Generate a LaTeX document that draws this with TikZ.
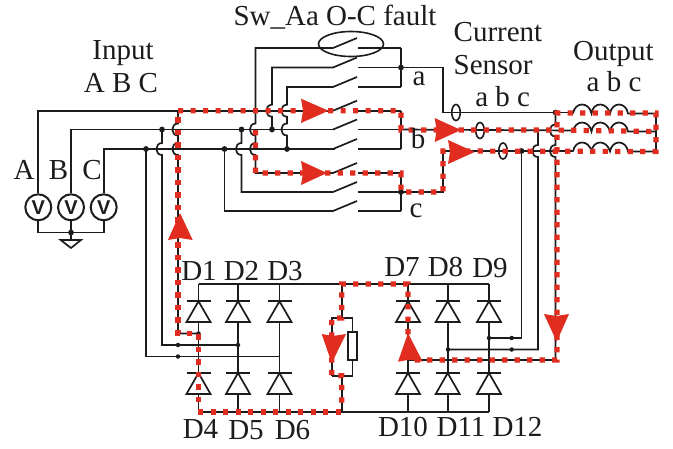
\documentclass[tikz,border=0pt]{standalone}
\usepackage{fontspec}
\usetikzlibrary{shapes.geometric}
\setmainfont{Liberation Serif}
\newfontfamily\vfont{Liberation Sans}
\definecolor{flt}{HTML}{E02D1F}
\definecolor{ink}{HTML}{1C1C1C}
\newcommand{\jmp}[2]{.. controls ({#1-7.5},{#2-6}) and ({#1-7.5},{#2+6}) .. (#1,{#2+6})}
\tikzset{
  wire/.style={draw=ink,line width=1.7pt},
  fault/.style={draw=flt,line width=5.2pt,dash pattern=on 5.2pt off 7.3pt},
  head/.style={fill=flt,draw=none},
  lab/.style={font=\fontsize{29}{29}\selectfont,text=ink,anchor=base,inner sep=0pt,outer sep=0pt},
  dotn/.style={circle,fill=ink,inner sep=0pt,minimum size=5.8pt},
  small dot/.style={circle,fill=ink,inner sep=0pt,minimum size=4.5pt},
  sensor/.style={draw=ink,line width=1.6pt,ellipse,minimum width=8.5pt,minimum height=16pt,inner sep=0pt},
  vsrc/.style={circle,draw=ink,line width=2pt,fill=white,minimum size=26pt,inner sep=0pt,font=\vfont\bfseries\fontsize{20}{20}\selectfont,text=ink},
}
\begin{document}
\begin{tikzpicture}[x=1pt,y=-1pt]
\useasboundingbox (0,0) rectangle (673,448);
% ---------- sources
\node[vsrc] (VA) at (38.3,207.3) {V};
\node[vsrc] (VB) at (71,207.3) {V};
\node[vsrc] (VC) at (103.7,207.3) {V};
\coordinate (gnd) at (71,232.5);
\coordinate (gt) at (71,240);
\draw[wire] (VA.south) |- (gnd) -| (VC.south);
\draw[wire] (VB.south) -- (gnd) -- (gt);
\node[dotn] at (gnd) {};
\draw[wire,fill=white] (60.7,240) -- (81,240) -- (71,248) -- cycle;
% ---------- input rails
\draw[wire,line width=2pt] (VA.north) -- (38.3,110.7) -- (320,110.7);
\draw[wire] (VB.north) -- (71,129.5) -- (335,129.5);
\draw[wire] (VC.north) -- (103.7,149) -- (335,149);
% ---------- switch rows
\foreach \r/\n in {48/1,67.5/2,87/3,110.7/4,129.5/5,149/6,173/7,192/8,211/9}{
  \draw[wire] (358,\r) -- (401,\r);
  \draw[wire] (333,\r) -- (357,{\r-10});
  \coordinate (sw\n) at (333,\r);
}
% ---------- switch feeds
\draw[wire] (sw1) -- (255.5,48) -- (255.5,123.5) \jmp{255.5}{129.5} -- (255.5,143) \jmp{255.5}{149} -- (255.5,173) -- (sw7);
\draw[wire] (sw2) -- (272,67.5) -- (272,104.7) \jmp{272}{110.7} -- (272,129.5);
\draw[wire] (sw3) -- (287,87) -- (287,104.7) \jmp{287}{110.7} -- (287,123.5) \jmp{287}{129.5} -- (287,149);
\draw[wire] (241.5,129.5) -- (241.5,143) \jmp{241.5}{149} -- (241.5,192) -- (sw8);
\draw[wire] (224.5,149) -- (224.5,211) -- (sw9);
\draw[wire] (320,110.7) -- (sw4);
\node[dotn] at (241.5,129.5) {};
\node[dotn] at (224.5,149) {};
\node[dotn] at (272,129.5) {};
\node[dotn] at (287,149) {};
% ---------- switch outputs
\coordinate (oa) at (401,67.5);
\coordinate (ob) at (401,129.5);
\coordinate (oc) at (401,192);
\draw[wire] (401,48) -- (401,87);
\draw[wire] (401,110.7) -- (401,149);
\draw[wire] (401,173) -- (401,211);
\node[dotn] at (oa) {};
\node[dotn] at (oc) {};
% ---------- output rails
\coordinate (ja) at (555.5,112.5);
\draw[wire] (oa) -- (443,67.5) -- (443,112.5) -- (ja) -- (573,112.5);
\draw[wire] (ob) -- (573,130.5);
\draw[wire] (oc) -- (443,192) -- (443,151) -- (573,151);
\node[dotn] at (ja) {};
\node[dotn] at (521.5,151) {};
% ---------- sensors
\node[sensor] (Sa) at (456,112.5) {};
\node[sensor] (Sb) at (480,130.5) {};
\node[sensor] (Sc) at (503,151) {};
% ---------- inductors
\foreach \y in {113.5,131.5,151.5}{
  \draw[wire] (573,\y)
    .. controls (575,{\y-12}) and (589,{\y-12}) .. (591.5,\y)
    .. controls (593,{\y-12}) and (607,{\y-12}) .. (610,\y)
    .. controls (612,{\y-12}) and (626,{\y-12}) .. (628,\y) -- (656,\y);
}
\draw[wire] (656,113.5) -- (656,151.5);
% ---------- rectifier return wires
\draw[wire] (178,110.7) -- (178,123.5) \jmp{178}{129.5} -- (178,143) \jmp{178}{149} -- (178,333.5) -- (198.5,333.5);
\draw[wire] (162,129.5) -- (162,143) \jmp{162}{149} -- (162,345) -- (238,345);
\draw[wire] (146,149) -- (146,356.5) -- (279.5,356.5);
\node[dotn] at (162,129.5) {};
\node[dotn] at (146,149) {};
\node[small dot] at (238,345) {};
\node[small dot] at (178,345) {};
\node[small dot] at (178,356.5) {};
\node[small dot] at (198.5,333.5) {};
\draw[wire] (521.5,151) -- (521.5,338) -- (489,338);
\draw[wire] (538,130.5) -- (538,145) \jmp{538}{151} -- (538,349.5) -- (448,349.5);
\draw[wire] (ja) -- (555.5,124.5) \jmp{555.5}{130.5} -- (555.5,145) \jmp{555.5}{151} -- (555.5,360) -- (408,360);
\node[small dot] at (511.7,338) {};
\node[small dot] at (489,338) {};
\node[small dot] at (511.7,349.5) {};
\node[small dot] at (448,349.5) {};
% ---------- bridge
\draw[wire] (198.5,284) -- (489,284);
\draw[wire] (198.5,412) -- (489,412);
\foreach \x in {198.5,238,279.5,408,447.7,489}{
  \draw[wire] (\x,284) -- (\x,412);
  \draw[wire] ({\x-12},301.3) -- ({\x+12},301.3);
  \draw[wire,fill=white] (\x,301.3) -- ({\x+12},322) -- ({\x-12},322) -- cycle;
  \draw[wire] ({\x-12},373) -- ({\x+12},373);
  \draw[wire,fill=white] (\x,373) -- ({\x+12},394) -- ({\x-12},394) -- cycle;
}
% ---------- load
\node[draw=ink,line width=1.7pt,fill=white,minimum width=9.5pt,minimum height=28.5pt,inner sep=0pt] (R) at (352.5,346) {};
\draw[wire] (341.7,284) -- (341.7,318);
\draw[wire] (331.7,375.7) -- (331.7,318) -- (352.5,318) -- (R.north);
\draw[wire] (R.south) -- (352.5,375.7) -- (331.7,375.7);
\draw[wire] (341.7,375.7) -- (341.7,412);
% ---------- fault ellipse
\node[draw=ink,line width=1.6pt,ellipse,minimum width=65pt,minimum height=25pt,inner sep=0pt] (fe) at (351,44) {};
% ---------- fault current
\draw[fault] (178,110.7) -- (401,110.7) -- (401,130) -- (552,130) -- (656,131.5);
\draw[fault] (178,117.3) -- (178,333.5) -- (198.5,333.5) -- (198.5,409);
\draw[fault] (198,412) -- (341.7,412);
\draw[fault] (255.5,130.2) -- (255.5,173) -- (401,173) -- (401,192) -- (443,192) -- (443,151) -- (656,151.5) -- (656,113) -- (557,113) -- (557,360) -- (408,360) -- (408,284) -- (341.7,284) -- (341.7,318) -- (331.7,318) -- (331.7,375.7) -- (341.7,375.7) -- (341.7,409);
% ---------- arrowheads
\fill[head] (301,98.7) -- (328.5,110.7) -- (301,123) -- (303,110.7) -- cycle;
\fill[head] (301,161) -- (327,173) -- (301,185) -- (303,173) -- cycle;
\fill[head] (434.7,118) -- (461,130) -- (434.7,142) -- (436.7,130) -- cycle;
\fill[head] (448,140) -- (474.7,152) -- (448,164) -- (450,152) -- cycle;
\fill[head] (168,240) -- (180,213) -- (192.7,240) -- (180,238) -- cycle;
\fill[head] (321.7,334) -- (331.7,363) -- (346,334) -- (333,336) -- cycle;
\fill[head] (398,361.7) -- (408,333) -- (422.7,361.7) -- (409,359.7) -- cycle;
\fill[head] (544,314) -- (556.7,341.7) -- (569,314) -- (556.7,316) -- cycle;
% ---------- labels
\node[lab] (tFault) at (335,25) {Sw\_Aa O-C fault};
\node[lab] (tInput) at (123,59) {Input};
\node[lab] (tABC) at (121,92) {A B C};
\node[lab] (tA) at (24,179) {A};
\node[lab] (tB) at (58.5,179) {B};
\node[lab] (tC) at (92,179) {C};
\node[lab] (ta) at (419,85.7) {a};
\node[lab] (tb) at (418,148) {b};
\node[lab] (tc) at (416,217) {c};
\node[lab] (tCur) at (498,41.7) {Current};
\node[lab,anchor=base west] (tSen) at (453.7,74) {Sensor};
\node[lab] (tabc) at (502.7,106.7) {a b c};
\node[lab] (tOut) at (613.5,60) {Output};
\node[lab] (tabc2) at (614,91.7) {a b c};
\node[lab] (D1) at (199,280) {D1};
\node[lab] (D2) at (241.5,280) {D2};
\node[lab] (D3) at (285,280) {D3};
\node[lab] (D4) at (200.5,438) {D4};
\node[lab] (D5) at (246,439) {D5};
\node[lab] (D6) at (292.5,439) {D6};
\node[lab] (D7) at (402,276.7) {D7};
\node[lab] (D8) at (445.5,276) {D8};
\node[lab] (D9) at (490,277.7) {D9};
\node[lab] (D10) at (403,436.7) {D10};
\node[lab] (D11) at (461,436.7) {D11};
\node[lab] (D12) at (517.5,436.7) {D12};
\end{tikzpicture}
\end{document}
